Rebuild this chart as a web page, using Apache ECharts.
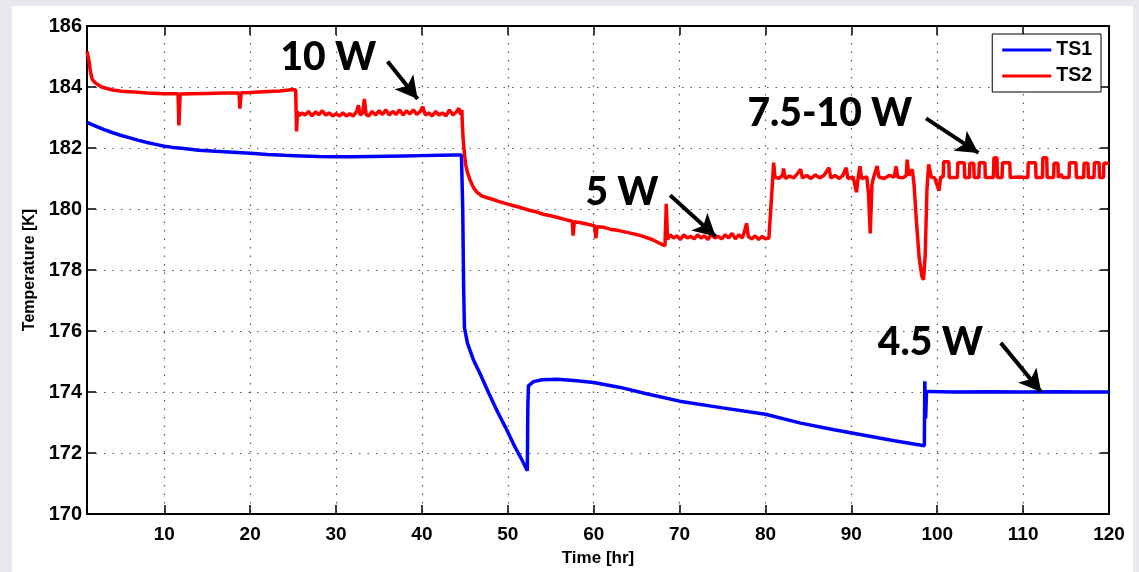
<!DOCTYPE html>
<html>
<head>
<meta charset="utf-8">
<title>TS1 / TS2 temperature</title>
<script src="https://cdn.jsdelivr.net/npm/echarts@6/dist/echarts.min.js"></script>
<style>
  html, body { margin: 0; padding: 0; background: #e8e9ed; }
  #chart { width: 1139px; height: 572px; }
</style>
</head>
<body>
<div id="chart"></div>
<script>
// tick labels
const xTicks = [10, 20, 30, 40, 50, 60, 70, 80, 90, 100, 110, 120]

// TS1 (blue) [time hr, temperature K]
const ts1 = [
  [1, 182.84], [2, 182.72], [3, 182.6], [4, 182.5], [5, 182.41], [6, 182.33], [7, 182.25],
  [8, 182.18], [9, 182.12], [10, 182.06], [11, 182.02], [12, 181.99], [14, 181.93], [16, 181.89],
  [18, 181.86], [20, 181.83], [22, 181.79], [24, 181.76], [26, 181.74], [28, 181.72], [30, 181.71],
  [32, 181.71], [34, 181.72], [36, 181.73], [38, 181.74], [40, 181.75], [42, 181.76], [44, 181.77],
  [44.6, 181.77], [44.75, 180.0], [44.85, 177.5], [44.95, 176.1], [45.3, 175.6], [46, 175.05],
  [46.8, 174.58], [47.8, 173.95], [48.8, 173.35], [49.8, 172.8], [50.7, 172.27], [51.5, 171.85],
  [52.27, 171.42], [52.33, 173.5], [52.4, 174.2], [53, 174.34], [54, 174.4], [55.8, 174.42],
  [58, 174.37], [60, 174.31], [63.1, 174.15], [66, 173.95], [70, 173.7], [75, 173.48],
  [80, 173.27], [84.1, 172.98], [88, 172.76], [92.3, 172.54], [95, 172.4], [98.5, 172.24],
  [98.55, 174.35], [98.6, 173.9], [98.65, 173.13], [98.75, 174.0], [99, 174.02], [102, 174.0],
  [106, 174.01], [110, 174.0], [114, 174.01], [117, 174.0], [120, 174.0]
]

// TS2 (red) [time hr, temperature K]
const ts2 = [
  [1, 185.17], [1.2, 184.9], [1.4, 184.5], [1.6, 184.26], [1.9, 184.15], [2.2, 184.09], [2.7, 184.0],
  [3.2, 183.96], [4, 183.9], [5, 183.86], [6.4, 183.84], [8, 183.8], [10, 183.78], [11.6, 183.78],
  [11.7, 182.74], [11.85, 183.77], [13, 183.78], [15, 183.79], [17, 183.8], [18.7, 183.8],
  [18.8, 183.29], [18.95, 183.81], [20, 183.82], [22, 183.85], [23.5, 183.87], [25, 183.92],
  [25.3, 183.9], [25.4, 182.54], [25.5, 183.2], [25.7, 183.05], [26.0, 183.15], [26.4, 183.08],
  [26.8, 183.2], [27.2, 183.05], [27.6, 183.18], [28.0, 183.1], [28.4, 183.22], [28.8, 183.08],
  [29.2, 183.15], [29.6, 183.05], [30.0, 183.12], [30.4, 183.05], [30.8, 183.15], [31.2, 183.05],
  [31.6, 183.12], [32.0, 183.05], [32.4, 183.2], [32.6, 183.4], [32.8, 183.08], [33.1, 183.15],
  [33.3, 183.61], [33.5, 183.1], [33.8, 183.05], [34.2, 183.2], [34.6, 183.08], [35.0, 183.22],
  [35.4, 183.1], [35.8, 183.25], [36.2, 183.08], [36.6, 183.2], [37.0, 183.1], [37.4, 183.25],
  [37.8, 183.08], [38.2, 183.22], [38.6, 183.12], [39.0, 183.25], [39.4, 183.1], [39.8, 183.2],
  [40.1, 183.35], [40.4, 183.08], [40.8, 183.15], [41.2, 183.05], [41.6, 183.2], [42.0, 183.08],
  [42.4, 183.15], [42.8, 183.05], [43.2, 183.25], [43.6, 183.08], [44.0, 183.18], [44.3, 183.3],
  [44.5, 183.1], [44.65, 183.25],
  [44.7, 182.8], [44.8, 182.3], [44.95, 181.8], [45.1, 181.45], [45.3, 181.2], [45.6, 180.95],
  [46.0, 180.7], [46.4, 180.55], [47.0, 180.42], [47.6, 180.37], [48.2, 180.32], [49.0, 180.24],
  [49.9, 180.17], [50.8, 180.1], [51.7, 180.03], [52.6, 179.95], [53.4, 179.9], [54.2, 179.82],
  [55.0, 179.78], [55.8, 179.72], [56.6, 179.66], [57.5, 179.6], [57.6, 179.13], [57.75, 179.58],
  [58.5, 179.55], [59.3, 179.5], [60.1, 179.45], [60.25, 179.04], [60.4, 179.42], [61.2, 179.4],
  [62.0, 179.33], [62.8, 179.3], [63.6, 179.25], [64.4, 179.2], [65.2, 179.15], [66.0, 179.08],
  [66.8, 179.0], [67.5, 178.9], [68.0, 178.83],
  [68.3, 178.8], [68.45, 180.17], [68.6, 179.0], [68.9, 179.15], [69.3, 179.05], [69.7, 179.12],
  [70.1, 179.0], [70.5, 179.15], [70.9, 179.05], [71.3, 179.1], [71.7, 179.02], [72.1, 179.15],
  [72.5, 179.05], [72.9, 179.12], [73.3, 179.0], [73.7, 179.18], [74.1, 179.05], [74.5, 179.1],
  [74.9, 179.02], [75.3, 179.15], [75.7, 179.05], [76.1, 179.2], [76.5, 179.02], [76.9, 179.15],
  [77.3, 179.05], [77.6, 179.3], [77.8, 179.53], [78.0, 179.1], [78.4, 179.02], [78.8, 179.12],
  [79.2, 179.0], [79.6, 179.1], [80.0, 179.02], [80.4, 179.05], [80.6, 179.1],
  [80.8, 180.8], [80.95, 181.52], [81.1, 181.05], [81.5, 181.0], [82.0, 181.1], [82.1, 181.33],
  [82.3, 181.0], [82.8, 181.08], [83.3, 181.02], [83.7, 181.15], [84.1, 181.3], [84.3, 181.02],
  [84.8, 181.1], [85.3, 181.0], [85.8, 181.12], [86.3, 181.02], [86.8, 181.1], [87.4, 181.35],
  [87.6, 181.02], [88.1, 181.1], [88.6, 181.0], [89.0, 181.1], [89.4, 181.35], [89.6, 181.0],
  [90.2, 181.05], [90.6, 180.55], [90.8, 181.05], [91.0, 181.4], [91.2, 181.0], [91.8, 181.05],
  [92.0, 180.5], [92.2, 179.2], [92.4, 180.8], [92.6, 181.05], [93.0, 181.41], [93.2, 181.05],
  [93.8, 181.0], [94.4, 181.1], [95.0, 181.05], [95.2, 181.4], [95.4, 181.05], [96.0, 181.02],
  [96.4, 181.1], [96.5, 181.62], [96.7, 181.1], [97.1, 181.3], [97.3, 180.8], [97.6, 179.5],
  [97.9, 178.4], [98.2, 177.8], [98.4, 177.68], [98.6, 178.5], [98.8, 180.6], [99.0, 181.46],
  [99.3, 181.05], [99.7, 181.02], [100.2, 180.6], [100.4, 181.05], [100.7, 181.05],
  [100.75, 181.55], [101.35, 181.55], [101.4, 181.03], [102.35, 181.03], [102.4, 181.52],
  [103.15, 181.52], [103.2, 181.03], [103.75, 181.03], [103.8, 181.5], [104.25, 181.5],
  [104.3, 181.03], [104.85, 181.03], [104.9, 181.52], [105.55, 181.52], [105.6, 181.03],
  [106.55, 181.03], [106.6, 181.68], [106.95, 181.68], [107.0, 181.03], [107.55, 181.03],
  [107.6, 181.52], [108.45, 181.52], [108.5, 181.03], [109.5, 181.05], [110.55, 181.03],
  [110.6, 181.52], [111.45, 181.52], [111.5, 181.03], [112.25, 181.03], [112.3, 181.68],
  [112.75, 181.68], [112.8, 181.03], [113.55, 181.03], [113.6, 181.5], [114.05, 181.5],
  [114.1, 181.03], [114.4, 181.15], [114.6, 181.03], [115.35, 181.03], [115.4, 181.52],
  [116.15, 181.52], [116.2, 181.03], [117.05, 181.03], [117.1, 181.5], [117.55, 181.5],
  [117.6, 181.03], [118.25, 181.03], [118.3, 181.52], [118.85, 181.52], [118.9, 181.03],
  [119.35, 181.03], [119.4, 181.5], [120, 181.5]
]

// annotations: label text, label position, arrow start, arrow end
const noteText = ['10 W', '5 W', '7.5-10 W', '4.5 W']
const notePos = [[29.1, 184.97], [63.3, 180.55], [87.5, 183.13], [99.2, 175.61]]
const arrowFrom = [[36.0, 184.84], [68.9, 180.45], [98.7, 182.97], [107.4, 175.61]]
const arrowTo = [[39.5, 183.61], [74.2, 179.1], [104.8, 181.84], [112.1, 174.0]]

const chart = echarts.init(document.getElementById('chart'))
const font = 'Liberation Sans, Arial, sans-serif'

const hiddenAxisCommon = {
  axisLabel: { show: false },
  splitLine: { show: false },
  axisLine: { show: true, lineStyle: { color: '#000', width: 2 } }
}

chart.setOption({
  animation: false,
  backgroundColor: '#e8e9ed',
  graphic: [{
    type: 'rect',
    z: -10,
    silent: true,
    shape: { x: 12, y: 6, width: 1121, height: 570 },
    style: { fill: '#fff' }
  }],
  grid: { left: 87, top: 26, right: 30, bottom: 50, containLabel: false },
  legend: {
    orient: 'vertical',
    right: 38,
    top: 34,
    backgroundColor: '#fff',
    borderColor: '#000',
    borderWidth: 1,
    borderRadius: 0,
    padding: [6, 9, 6, 10],
    itemWidth: 49,
    itemHeight: 3,
    itemGap: 6,
    icon: 'rect',
    data: ['TS1', 'TS2'],
    textStyle: { fontSize: 19.5, fontWeight: 'bold', fontFamily: font, color: '#000' }
  },
  xAxis: [{
    type: 'value',
    min: 1,
    max: 120,
    name: 'Time [hr]',
    nameLocation: 'middle',
    nameGap: 36,
    nameTextStyle: { fontSize: 17, fontWeight: 'bold', fontFamily: font, color: '#000' },
    axisLine: { show: true, lineStyle: { color: '#000', width: 2 } },
    axisTick: { show: true, inside: true, length: 9, customValues: xTicks, lineStyle: { color: '#000', width: 1.5 } },
    axisLabel: { show: true, customValues: xTicks, margin: 11, fontSize: 19, fontWeight: 'bold', fontFamily: font, color: '#000' },
    splitLine: { show: true, lineStyle: { color: '#555', type: [1.5, 7], width: 1.2 } }
  }, Object.assign({
    type: 'value',
    position: 'top',
    min: 1,
    max: 120,
    axisTick: { show: true, inside: true, length: 9, customValues: xTicks, lineStyle: { color: '#000', width: 1.5 } }
  }, hiddenAxisCommon)],
  yAxis: [{
    type: 'value',
    min: 170,
    max: 186,
    interval: 2,
    name: 'Temperature [K]',
    nameLocation: 'middle',
    nameGap: 49,
    nameTextStyle: { fontSize: 16, fontWeight: 'bold', fontFamily: font, color: '#000' },
    axisLine: { show: true, lineStyle: { color: '#000', width: 2 } },
    axisTick: { show: true, inside: true, length: 9, lineStyle: { color: '#000', width: 1.5 } },
    axisLabel: { margin: 5, fontSize: 20, fontWeight: 'bold', fontFamily: font, color: '#000' },
    splitLine: { show: true, lineStyle: { color: '#555', type: [1.5, 7], width: 1.2 } }
  }, Object.assign({
    type: 'value',
    position: 'right',
    min: 170,
    max: 186,
    interval: 2,
    axisTick: { show: true, inside: true, length: 9, lineStyle: { color: '#000', width: 1.5 } }
  }, hiddenAxisCommon)],
  series: [
    {
      name: 'TS1',
      type: 'line',
      data: ts1,
      showSymbol: false,
      color: '#0000ff',
      lineStyle: { width: 3.5, color: '#0000ff' },
      z: 3
    },
    {
      name: 'TS2',
      type: 'line',
      data: ts2,
      showSymbol: false,
      color: '#ff0000',
      lineStyle: { width: 3.5, color: '#ff0000' },
      z: 4
    },
    {
      name: 'notes',
      type: 'line',
      data: [],
      z: 5,
      markPoint: {
        symbol: 'circle',
        symbolSize: 0,
        silent: true,
        label: {
          show: true,
          position: 'inside',
          formatter: p => p.name,
          fontSize: 39,
          fontWeight: 900,
          fontFamily: 'Lato, DejaVu Sans, sans-serif',
          color: '#000'
        },
        data: noteText.map((t, i) => ({ name: t, coord: notePos[i] }))
      },
      markLine: {
        silent: true,
        symbol: ['none', 'arrow'],
        symbolSize: [18, 22],
        label: { show: false },
        lineStyle: { color: '#000', width: 4, type: 'solid' },
        data: arrowFrom.map((f, i) => [{ coord: f }, { coord: arrowTo[i] }])
      }
    }
  ]
})
</script>
</body>
</html>
